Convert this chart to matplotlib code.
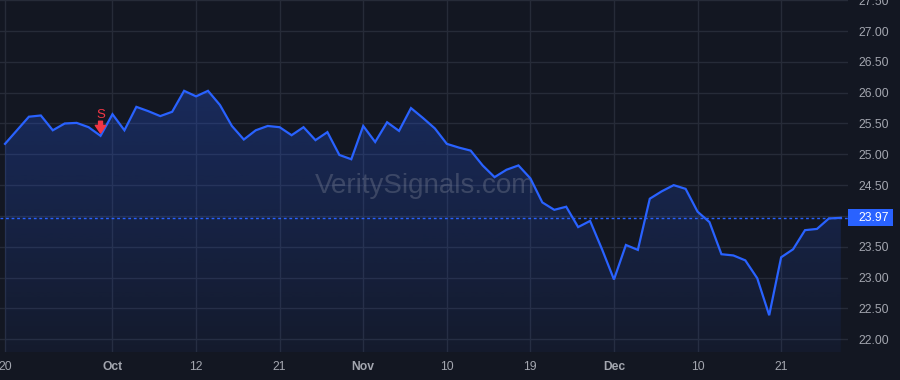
import numpy as np
import matplotlib.pyplot as plt
from matplotlib.patches import Polygon, Rectangle
from matplotlib.transforms import blended_transform_factory

# ── data ─────────────────────────────────────────────
prices = [25.17, 25.39, 25.61, 25.63, 25.39, 25.50, 25.51, 25.44, 25.30, 25.65,
          25.39, 25.77, 25.70, 25.62, 25.69, 26.03, 25.94, 26.03, 25.80, 25.46,
          25.24, 25.39, 25.46, 25.44, 25.31, 25.44, 25.23, 25.36, 24.99, 24.92,
          25.46, 25.20, 25.52, 25.38, 25.75, 25.59, 25.42, 25.17, 25.11, 25.06,
          24.82, 24.63, 24.75, 24.82, 24.61, 24.22, 24.10, 24.15, 23.82, 23.92,
          23.46, 22.97, 23.53, 23.45, 24.28, 24.40, 24.50, 24.44, 24.07, 23.90,
          23.38, 23.36, 23.28, 22.99, 22.39, 23.33, 23.46, 23.77, 23.79, 23.96,
          23.97]
tick_pos = [0, 9, 16, 23, 30, 37, 44, 51, 58, 65]
tick_labels = ['20', 'Oct', '12', '21', 'Nov', '10', '19', 'Dec', '10', '21']
bold_labels = ['Oct', 'Nov', 'Dec']
y_ticks = [22.0, 22.5, 23.0, 23.5, 24.0, 24.5, 25.0, 25.5, 26.0, 26.5, 27.0, 27.5]
signal_idx = 8
signal_text = 'S'
last_price = 23.97
watermark = 'VeritySignals.com'

BG = '#131722'
BLUE = '#2962FF'
RED = '#F23645'
GRID = '#262b38'
TXT = '#a3a6af'

plt.rcParams['font.family'] = ['Liberation Sans', 'DejaVu Sans']

x = np.arange(len(prices))
y = np.array(prices)

fig = plt.figure(figsize=(9, 3.8), dpi=100, facecolor=BG)
ax = fig.add_axes([0, 28/380, 848/900, 352/380], facecolor=BG)
ymin, ymax = 21.794, 27.503
ax.set_xlim(-0.42, 70.6)
ax.set_ylim(ymin, ymax)

# grid
ax.set_xticks(tick_pos)
ax.set_yticks(y_ticks)
ax.grid(True, color=GRID, lw=1)
ax.set_axisbelow(True)
for s in ax.spines.values():
    s.set_visible(False)

# gradient area under line
poly = Polygon(np.column_stack([np.r_[x[0], x, x[-1]], np.r_[ymin, y, ymin]]),
               closed=True, fc='none', ec='none')
ax.add_patch(poly)
grad = np.zeros((256, 1, 4))
rgb = np.array([41, 98, 255]) / 255
grad[:, 0, :3] = rgb
grad[:, 0, 3] = np.linspace(0.26, 0.05, 256)
im = ax.imshow(grad, extent=[x[0], x[-1], ymin, y.max()], aspect='auto',
               origin='upper', zorder=1.5)
im.set_clip_path(poly)

ax.plot(x, y, color=BLUE, lw=1.6, zorder=3, solid_joinstyle='miter')
ax.axhline(last_price, color=BLUE, lw=1, ls=(0, (2, 2)), zorder=2.5)

# watermark
ax.text(35.2, 24.48, watermark, fontsize=20, color='#b2b5be', alpha=0.24,
        ha='center', va='center', zorder=2)

# sell signal
ax.annotate('', xy=(signal_idx, y[signal_idx]), xytext=(0, 10.5),
            textcoords='offset points',
            arrowprops=dict(arrowstyle='simple,head_width=0.75,head_length=0.55,tail_width=0.28',
                            color=RED, shrinkA=0, shrinkB=2), zorder=4)
ax.annotate(signal_text, xy=(signal_idx, y[signal_idx]), xytext=(0, 15),
            textcoords='offset points', ha='center', va='center',
            color=RED, fontsize=9.5, zorder=4)

# axes labels
ax.yaxis.tick_right()
ax.set_yticklabels([f'{v:.2f}' for v in y_ticks])
ax.tick_params(axis='y', length=0, pad=7.2, labelsize=8.7, labelcolor=TXT)
for lab in ax.get_yticklabels():
    if lab.get_text() == '24.00':
        lab.set_visible(False)
ax.set_xticklabels(tick_labels)
ax.tick_params(axis='x', length=0, pad=6.5, labelsize=8.7, labelcolor=TXT)
for lab in ax.get_xticklabels():
    if lab.get_text() in bold_labels:
        lab.set_fontweight('bold')

# last price tag
tr = blended_transform_factory(ax.transAxes, ax.transData)
ax.add_patch(Rectangle((1.0, last_price - 0.14), 45/848, 0.28, transform=tr,
                       fc=BLUE, ec='none', clip_on=False, zorder=5))
ax.text(1.0 + 10/848, last_price, f'{last_price:.2f}', transform=tr,
        ha='left', va='center', color='white', fontsize=8.7, zorder=6)

fig.savefig('out.png', dpi=100, facecolor=BG)
